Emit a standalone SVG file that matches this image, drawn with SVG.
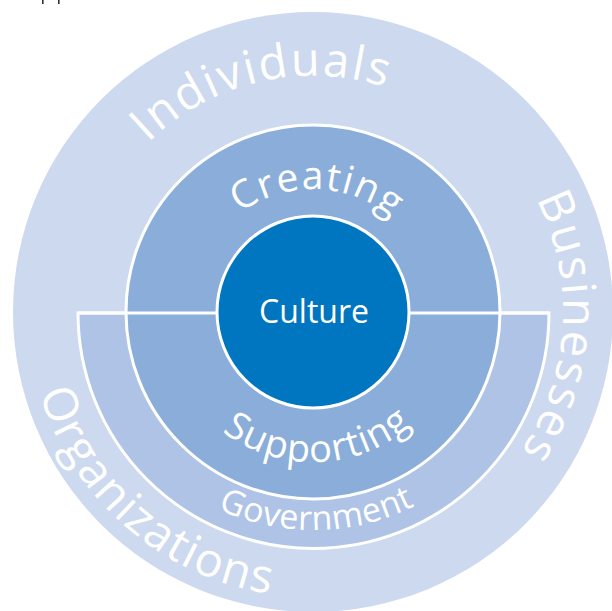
<svg xmlns="http://www.w3.org/2000/svg" width="612" height="611" viewBox="0 0 612 611">
  <style>
    .lbl { fill: #ffffff; font-family: "Open Sans", "Noto Sans", "DejaVu Sans", sans-serif; }
    .edge { stroke: #ffffff; stroke-width: 3; }
  </style>
  <defs>
    <path id="pIndividuals" d="M79.3,344.85 A236,236 0 0 1 537.5,239.1"/>
    <path id="pBusinesses" d="M343.5,63.9 A250,250 0 0 1 326.1,561.7"/>
    <path id="pOrganizations" d="M82.4,144.5 A285,285 0 0 0 511,517"/>
    <path id="pGovernment" d="M88.2,335.6 A227,227 0 0 0 538.5,327.8"/>
    <path id="pSupporting" d="M164.1,330.3 A150,150 0 0 0 462.8,319.8"/>
    <path id="pCreating" d="M190.9,297 A123,123 0 0 1 435.8,305.6"/>
  </defs>
  <rect width="612" height="611" fill="#ffffff"/>
  <rect x="42" y="0" width="1.6" height="4" fill="#333333"/>
  <rect x="58" y="0" width="1.6" height="4" fill="#333333"/>

  <g id="outer-ring">
    <circle cx="313" cy="312" r="300" fill="#ccd9ef"/>
    <text class="lbl" font-size="47" letter-spacing="2"><textPath href="#pIndividuals" startOffset="50%" text-anchor="middle">Individuals</textPath></text>
    <text class="lbl" font-size="47" letter-spacing="2.5"><textPath href="#pBusinesses" startOffset="51%" text-anchor="middle">Businesses</textPath></text>
    <text class="lbl" font-size="47" letter-spacing="1.5"><textPath href="#pOrganizations" startOffset="50%" text-anchor="middle">Organizations</textPath></text>
  </g>

  <g id="government">
    <path class="edge" d="M78,313 H549 A235.5,235.5 0 0 1 78,313 Z" fill="#aec3e6"/>
    <text class="lbl" font-size="34" letter-spacing="0.5"><textPath href="#pGovernment" startOffset="50%" text-anchor="middle">Government</textPath></text>
  </g>

  <g id="creating-supporting">
    <circle class="edge" cx="313" cy="312" r="187" fill="#8aaed9"/>
    <line class="edge" x1="78" y1="313" x2="549" y2="313"/>
    <text class="lbl" font-size="39" letter-spacing="1.5"><textPath href="#pCreating" startOffset="50%" text-anchor="middle">Creating</textPath></text>
    <text class="lbl" font-size="38" letter-spacing="1"><textPath href="#pSupporting" startOffset="50%" text-anchor="middle">Supporting</textPath></text>
  </g>

  <g id="culture">
    <circle class="edge" cx="313" cy="312" r="96" fill="#0076c0"/>
    <text class="lbl" x="314" y="323" font-size="32" text-anchor="middle">Culture</text>
  </g>

  <g id="connectors"/>
</svg>
